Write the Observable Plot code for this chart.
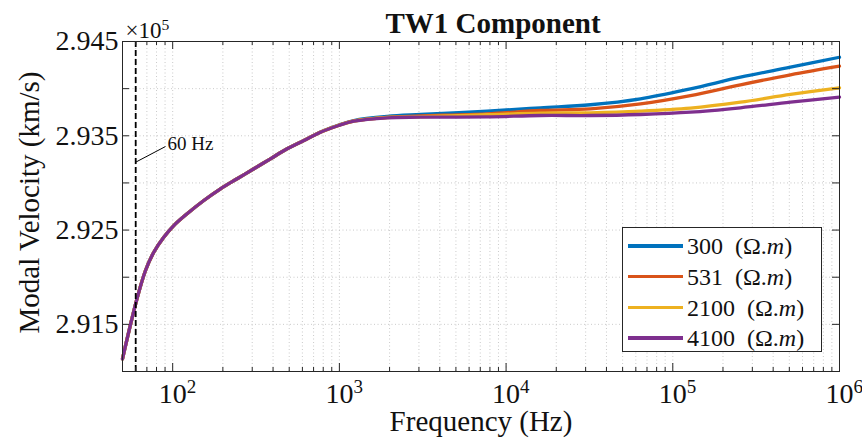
<!DOCTYPE html>
<html><head><meta charset="utf-8">
<script src="https://cdn.jsdelivr.net/npm/d3@7"></script>
<script src="https://cdn.jsdelivr.net/npm/@observablehq/plot@0.6"></script>
<style>
body{margin:0;background:#fff;}
#wrap{position:relative;width:862px;height:439px;font-family:"Liberation Serif","Times New Roman",serif;color:#111;}
#legend{position:absolute;left:622px;top:227px;width:200px;height:125px;border:1px solid #262626;background:#fff;box-sizing:border-box;}
.row{position:absolute;left:0;width:100%;height:30px;}
.sw{position:absolute;left:5px;top:13px;width:55px;height:3.5px;}
.lab{position:absolute;left:64px;top:2px;font-size:24px;white-space:nowrap;line-height:26px;}
.lab .u{margin-left:12px;}
</style></head>
<body><div id="wrap"></div>
<script>
// ---- data (velocity in units of 1e5 km/s) ----
const freqHz = [50, 60.7, 68.7, 77, 88.4, 101.5, 122, 153.7, 193.6, 243.6, 306.9, 386, 486, 612, 771, 991, 1222, 1936, 3069, 7700, 16070, 32060, 64000, 127600, 254600, 508000, 1000000];
const v300  = [2.91135, 2.91753, 2.92071, 2.92265, 2.92424, 2.92548, 2.92673, 2.92814, 2.92938, 2.93044, 2.93150, 2.93256, 2.93362, 2.93450, 2.93540, 2.93614, 2.93662, 2.93705, 2.93726, 2.93761, 2.93797, 2.93829, 2.93892, 2.93998, 2.94121, 2.94227, 2.94333];
const v531  = [2.91135, 2.91753, 2.92071, 2.92265, 2.92424, 2.92548, 2.92673, 2.92814, 2.92938, 2.93044, 2.93150, 2.93256, 2.93362, 2.93450, 2.93539, 2.93612, 2.93657, 2.93696, 2.93710, 2.93733, 2.93768, 2.93786, 2.93839, 2.93927, 2.94041, 2.94147, 2.94238];
const v2100 = [2.91135, 2.91753, 2.92071, 2.92265, 2.92424, 2.92548, 2.92673, 2.92814, 2.92938, 2.93044, 2.93150, 2.93256, 2.93362, 2.93450, 2.93538, 2.93610, 2.93656, 2.93694, 2.93702, 2.93723, 2.93740, 2.93744, 2.93761, 2.93793, 2.93856, 2.93938, 2.94009];
const v4100 = [2.91135, 2.91753, 2.92071, 2.92265, 2.92424, 2.92548, 2.92673, 2.92814, 2.92938, 2.93044, 2.93150, 2.93256, 2.93362, 2.93450, 2.93538, 2.93609, 2.93655, 2.93691, 2.93697, 2.93701, 2.93715, 2.93715, 2.93726, 2.93750, 2.93797, 2.93856, 2.93909];
const seriesNames = ["300", "531", "2100", "4100"];
const seriesColors = ["#0072BD", "#D95319", "#EDB120", "#7E2F8E"];
const yTickLabels = [2.915, 2.925, 2.935, 2.945];
const yTicksAll = [2.915, 2.92, 2.925, 2.93, 2.935, 2.94, 2.945];
const xMajor = [1e2, 1e3, 1e4, 1e5, 1e6];
const xMinor = [50, 60, 70, 80, 90, 200, 300, 400, 500, 600, 700, 800, 900, 2000, 3000, 4000, 5000, 6000, 7000, 8000, 9000, 20000, 30000, 40000, 50000, 60000, 70000, 80000, 90000, 200000, 300000, 400000, 500000, 600000, 700000, 800000, 900000];
const markerFreq = [60];
const markerLabel = [{f: 93.1, v: 2.93344, text: "60 Hz"}];
const markerLeader = [{f1: 60, v1: 2.93220, f2: 90.5, v2: 2.93386}];
const titleText = "TW1 Component";
const xLabel = "Frequency (Hz)";
const yLabel = "Modal Velocity (km/s)";
const yExponent = "×10^5";

const allSeries = [v300, v531, v2100, v4100];
const rows = [];
allSeries.forEach((vals, i) => vals.forEach((v, j) => rows.push({f: freqHz[j], v, s: seriesNames[i]})));

const W = 862, H = 439, mL = 122, mR = 23, mT = 41, mB = 68;
const fw = W - mL - mR, fh = H - mT - mB;
const axisColor = "#262626";
const grid = {stroke: "#c4c4c4", strokeDasharray: "1,2.5", strokeWidth: 0.9};

const chart = Plot.plot({
  width: W, height: H,
  marginLeft: mL, marginRight: mR, marginTop: mT, marginBottom: mB,
  style: {fontFamily: "'Liberation Serif','Times New Roman',serif", background: "white", color: "#111"},
  x: {type: "log", domain: [50, 1e6], axis: null},
  y: {domain: [2.91, 2.945], axis: null},
  color: {domain: seriesNames, range: seriesColors},
  marks: [
    Plot.ruleX(xMinor.concat(xMajor.slice(0, 4)), grid),
    Plot.ruleY(yTicksAll.slice(0, -1), grid),
    Plot.line(rows, {x: "f", y: "v", z: "s", stroke: "s", strokeWidth: 3.3, curve: "catmull-rom"}),
    Plot.ruleX(markerFreq, {stroke: "black", strokeWidth: 1.8, strokeDasharray: "6,3"}),
    Plot.link(markerLeader, {x1: "f1", y1: "v1", x2: "f2", y2: "v2", stroke: "black", strokeWidth: 1}),
    Plot.text(markerLabel, {x: "f", y: "v", text: "text", textAnchor: "start", lineAnchor: "bottom", fontSize: 19, fill: "#111"}),
    // inward ticks
    Plot.tickX(xMajor, {x: d => d, insetTop: fh - 8, stroke: axisColor}),
    Plot.tickX(xMajor, {x: d => d, insetBottom: fh - 8, stroke: axisColor}),
    Plot.tickX(xMinor, {x: d => d, insetTop: fh - 4, stroke: axisColor}),
    Plot.tickX(xMinor, {x: d => d, insetBottom: fh - 4, stroke: axisColor}),
    Plot.tickY(yTicksAll, {y: d => d, insetRight: fw - 7, stroke: axisColor}),
    Plot.tickY(yTicksAll, {y: d => d, insetLeft: fw - 7, stroke: axisColor}),
    Plot.frame({stroke: axisColor, strokeWidth: 1}),
    // tick labels
    Plot.text(yTickLabels, {y: d => d, frameAnchor: "left", dx: -4, textAnchor: "end", text: d => d.toFixed(3), fontSize: 28, fill: "#111"}),
    Plot.text(xMajor, {x: d => d, frameAnchor: "bottom", dy: 31, dx: -14, lineAnchor: "bottom", textAnchor: "start", text: d => "10^" + Math.round(Math.log10(d)), fontSize: 28, fill: "#111"}),
    Plot.text([yExponent], {frameAnchor: "top-left", dx: 3, dy: -4, lineAnchor: "bottom", textAnchor: "start", fontSize: 23, fill: "#111"}),
    // axis labels and title
    Plot.text([xLabel], {frameAnchor: "bottom", dy: 59, lineAnchor: "bottom", textAnchor: "middle", fontSize: 29, fill: "#111"}),
    Plot.text([yLabel], {frameAnchor: "left", dx: -83.5, dy: -4, rotate: -90, lineAnchor: "bottom", textAnchor: "middle", fontSize: 29, fill: "#111"}),
    Plot.text([titleText], {frameAnchor: "top", dx: 12, dy: -8.3, lineAnchor: "bottom", textAnchor: "middle", fontSize: 29, fontWeight: "bold", fill: "#111"})
  ]
});

// superscripts for "base^exp" labels
d3.select(chart).selectAll("text").each(function() {
  const t = this.textContent;
  const m = t.match(/^(.*)\^(\d+)$/);
  if (!m) return;
  this.textContent = m[1];
  const ts = document.createElementNS("http://www.w3.org/2000/svg", "tspan");
  ts.setAttribute("font-size", "0.68em");
  ts.setAttribute("dy", "-0.48em");
  ts.textContent = m[2];
  this.appendChild(ts);
});

const wrap = document.getElementById("wrap");
wrap.appendChild(chart);

// legend built from the series arrays
const legend = document.createElement("div");
legend.id = "legend";
seriesNames.forEach((name, i) => {
  const row = document.createElement("div");
  row.className = "row";
  row.style.top = (3 + i * 30.8) + "px";
  row.innerHTML = `<div class="sw" style="background:${seriesColors[i]}"></div><div class="lab">${name}<span class="u">(Ω.<i>m</i>)</span></div>`;
  legend.appendChild(row);
});
wrap.appendChild(legend);
</script>
</body></html>
